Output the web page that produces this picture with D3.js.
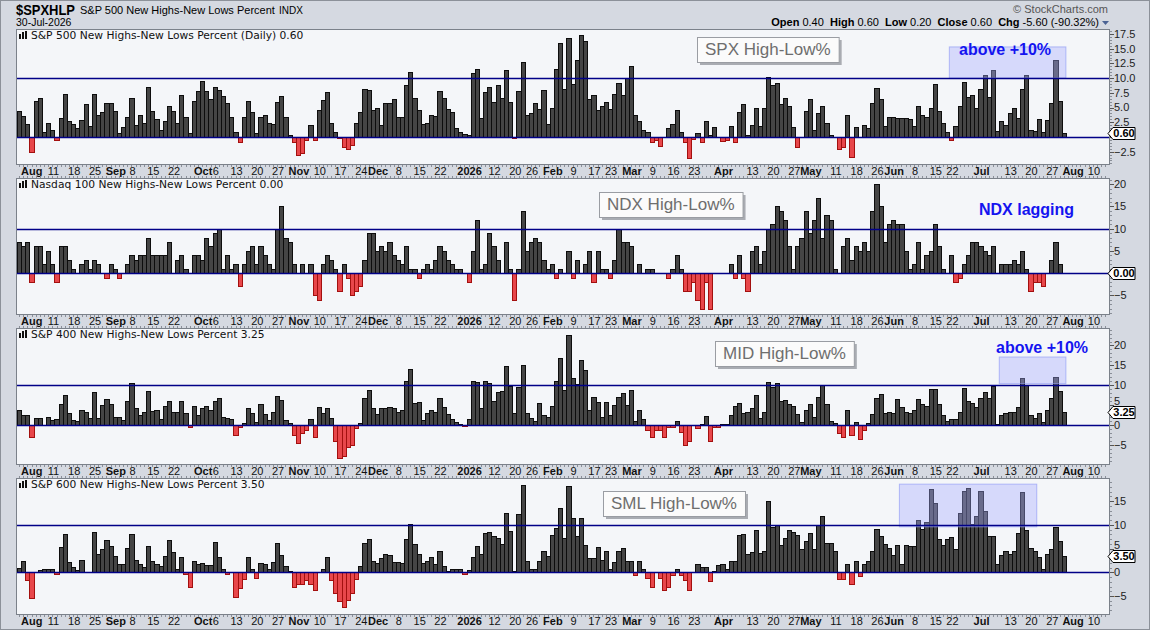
<!DOCTYPE html>
<html>
<head>
<meta charset="utf-8">
<script src="https://cdn.jsdelivr.net/npm/d3@7/dist/d3.min.js"></script>
<style>
  body { margin: 0; background: #d5d9e1; }
  svg { display: block; }
  text { font-family: "Liberation Sans", Arial, sans-serif; }
</style>
</head>
<body>
<div id="chart"></div>
<script>
/* ---- Data ---- */

// market holidays in the range, weekends are skipped as well
const holidays = ["2025-09-01", "2025-11-27", "2025-12-25", "2026-01-01", "2026-01-19",
  "2026-02-16", "2026-04-03", "2026-05-25", "2026-06-19", "2026-07-03"];

const firstDay = "2025-07-30";
const lastDay = "2026-07-30";
const axisEnd = "2026-08-13";

const tickDates = ["2025-08-01", "2025-08-11", "2025-08-18", "2025-08-25", "2025-09-02", "2025-09-08",
  "2025-09-15", "2025-09-22", "2025-10-01", "2025-10-06", "2025-10-13", "2025-10-20", "2025-10-27",
  "2025-11-03", "2025-11-10", "2025-11-17", "2025-11-24", "2025-12-01", "2025-12-08", "2025-12-15",
  "2025-12-22", "2026-01-02", "2026-01-12", "2026-01-20", "2026-01-26", "2026-02-02", "2026-02-09",
  "2026-02-17", "2026-02-23", "2026-03-02", "2026-03-09", "2026-03-16", "2026-03-23", "2026-04-01",
  "2026-04-13", "2026-04-20", "2026-04-27", "2026-05-01", "2026-05-11", "2026-05-18", "2026-05-26",
  "2026-06-01", "2026-06-08", "2026-06-15", "2026-06-22", "2026-07-01", "2026-07-13", "2026-07-20",
  "2026-07-27", "2026-08-03", "2026-08-10"];
const tickLabels = ["Aug", "11", "18", "25", "Sep", "8", "15", "22", "Oct", "6", "13", "20", "27",
  "Nov", "10", "17", "24", "Dec", "8", "15", "22", "2026", "12", "20", "26", "Feb", "9", "17", "23",
  "Mar", "9", "16", "23", "Apr", "13", "20", "27", "May", "11", "18", "26", "Jun", "8", "15", "22",
  "Jul", "13", "20", "27", "Aug", "10"];

// S&P 500 New Highs-New Lows Percent
const spxValues = [
  4.4, 3.5, 2.2, -2.6, 6.1, 6.6, 0.8, 2.3, 1.1, -0.5, 3.2, 7.3, 2.7, 2.2, 1.5, 2.9, 5.6, 1.8, 7.3, 3.7,
  4.2, 5.7, 5.7, 4.4, 0.6, 1.7, 3.4, 6.6, 2.0, 3.7, 2.3, 8.5, 4.4, 3.1, 1.1, 2.7, 5.2, 4.4, 2.3, 7.1,
  3.4, 0.6, 6.1, 7.8, 9.5, 7.8, 6.5, 8.5, 8.0, 6.9, 5.7, 3.4, 0.8, -0.9, 3.4, 6.1, 4.2, 0.6, 3.4, 3.7,
  2.3, 2.2, 6.0, 6.9, 3.4, 0.3, -0.9, -3.0, -2.8, -0.5, 2.0, -0.6, 4.5, 6.2, 7.7, 2.3, 0.8, -0.2, -1.7,
  -2.0, -1.4, 2.3, 4.2, 8.1, 8.0, 4.5, 4.9, 2.0, 5.7,
  5.7, 6.5, 3.4, 3.4, 8.9, 11.1, 6.6, 4.5, 2.2, 2.3, 3.7, 3.5, 7.8, 6.6, 4.8, 4.2, 1.5, 0.8, 0.5, 0.3,
  10.9, 11.5, 3.2, 7.7, 8.5, 6.0, 8.9, 6.6, 11.4, 6.0, -0.2, 7.8, 12.8, 3.7, 4.0, 5.7, 4.8, 8.0, 2.2, 4.9,
  11.6, 15.9, 8.1, 16.8, 9.0, 13.1, 17.4, 16.3, 6.5, 7.1, 4.5, 5.2, 5.9, 4.8, 7.3, 9.1, 7.1, 10.0, 12.0, 3.7,
  2.7, 1.1, 0.8, -0.9, -0.6, -1.6, 0, 1.5, 2.2, 4.5, 0.8, -0.9, -3.5, -0.3, 0.6, -0.9, 2.7, 0.3, 1.7, 0,
  -0.7, -0.5, 1.8, -0.9, 4.2, 5.6, 0.3, 2.0, 4.9, 1.8, 4.9,
  10.2, 8.9, 9.1, 5.6, 6.6, 5.2, 1.7, -1.7, 0, 4.4, 6.5, 1.1, 4.0, 5.2, 2.3, 0.3, 0, -2.0, -1.7, 3.7,
  -3.4, 1.7, 0, 2.0, 1.5, 5.7, 8.4, 6.5, 1.8, 3.4, 3.4, 3.2, 3.2, 3.2, 3.1, 1.8, 5.2, 3.7, 3.4, 4.9,
  9.0, 4.4, 2.3, 0.8, -0.5, 1.8, 5.2, 9.4, 6.8, 7.1, 4.9, 8.1, 10.5, 6.8, 11.4, 1.0, 2.7, 2.0, 4.0, 4.9,
  3.2, 8.1, 10.5, 1.1, 1.0, 3.1, 0.8, 2.9, 5.7, 13.1, 6.1, 0.6];

// Nasdaq 100 New Highs-New Lows Percent
const ndxValues = [
  7, 6, 7, -2, 6, 6, 2, 5, 2, -2, 6, 6, 3, 1, 0, 2, 3, 1, 3, 2,
  0, -1, 2, 1, -1, 0, 2, 4, 3, 4, 4, 8, 4, 4, 4, 4, 7, 0, 3, 4,
  1, 0, 4, 4, 3, 8, 6, 9, 10, 1, 4, 1, 2, -3, 2, 5, 6, 2, 6, 4,
  2, 1, 10, 15, 8, 7, 2, 0, 2, 0, 2, -5, -6, 2, 4, 3, 1, -4, 2, -1,
  -5, -4, -3, 3, 9, 9, 5, 6, 5, 7,
  4, 3, 2, 6, 1, 1, -1, 1, 2, 1, 3, 6, 5, 3, 2, 1, 1, 0, -2, 5,
  12, 1, 2, 9, 6, 3, 0, 7, 1, -6, 1, 14, 5, 7, 8, 7, 3, 1, 2, -1,
  1, 0, 5, -1, 3, 0, 2, 5, -2, 5, 1, 1, -1, 3, 10, 7, 7, 6, 0, 2,
  0, 1, 1, 0, 0, 0, -1, 1, 4, 1, -4, -4, -2, -6, -8, -2, -8, 0, 0, 0,
  0, 2, -1, 4, -1, -4, 5, 6, 2, 5,
  10, 11, 15, 14, 12, 6, 1, 6, 8, 14, 9, 12, 17, 8, 13, 12, 1, 0, 6, 8,
  3, 6, 5, 7, 5, 14, 20, 15, 7, 11, 12, 11, 11, 5, 1, 2, 7, 1, 4, 5,
  11, 6, 1, 0, 4, -2, -1, 2, 4, 7, 7, 6, 5, 4, 6, 0, 2, 2, 2, 3,
  2, 5, 1, -4, -2, -2, -3, 0, 3, 7, 2, 0];

// S&P 400 New Highs-New Lows Percent
const midValues = [
  3.7, 2.5, 2.5, -2.9, 1.7, 1.7, 0, 1.9, 1.3, 1.4, 5.2, 7.5, 2.9, 1.3, 1.0, 3.7, 3.4, 1.7, 8.2, 1.7,
  5.0, 6.5, 5.2, 1.9, 1.9, 1.2, 6.0, 10.5, 4.2, 2.5, 3.2, 8.5, 3.5, 3.7, 1.4, 4.7, 6.0, 3.2, 3.4, 6.0,
  2.9, -0.6, 4.7, 2.5, 4.2, 4.7, 3.9, 6.0, 6.7, 1.9, 1.7, 1.4, -2.6, -0.4, 0.4, 4.2, 2.9, 0.7, 5.2, 2.7,
  1.2, 3.2, 7.2, 6.2, 1.2, 0.4, -2.4, -4.4, -2.1, -1.3, 1.4, -2.9, 4.5, 2.9, 4.2, 1.7, -3.9, -8.2, -7.9,
  -5.4, -5.1, -0.8, 0.4, 6.7, 8.7, 4.2, 2.7, 4.2, 4.2,
  4.5, 4.2, 3.2, 3.9, 11.0, 14.1, 5.5, 5.7, 1.2, 2.9, 3.9, 3.2, 6.7, 4.5, 2.7, 1.4, 0.7, 0.3, -0.3, 1.4,
  11.0, 10.8, 4.2, 11.0, 10.5, 6.0, 8.2, 8.5, 14.8, 9.7, 2.9, 9.5, 15.0, 2.9, 1.7, 0.9, 5.5, 2.5, 1.9, 4.7,
  11.0, 16.8, 8.7, 22.6, 11.8, 10.3, 16.3, 13.8, 3.9, 7.0, 5.7, 1.9, 5.7, 2.5, 5.0, 7.0, 8.0, 5.0, 8.7, 0.9,
  3.7, 1.4, -1.3, -3.1, -1.3, -1.3, -2.9, -0.6, -0.6, 0.9, -1.8, -4.9, -4.1, 0, -0.8, 0.3, 2.3, -3.9, -0.6, -0.6,
  0.2, 0.2, 2.5, 4.7, 5.5, 2.9, 3.2, 4.2, 7.5, 1.7, 3.4,
  10.8, 9.5, 10.5, 6.0, 6.2, 5.2, 4.7, 2.7, 0.7, 3.9, 5.2, 1.9, 7.0, 10.0, 5.2, 0.9, 0.4, -2.1, -2.9, 3.9,
  -2.4, 0.7, -3.4, -1.3, 0.4, 2.7, 6.7, 7.7, 2.9, 3.4, 2.9, 6.5, 4.5, 3.2, 2.9, 3.7, 6.5, 5.2, 4.7, 9.0,
  9.0, 5.2, 2.5, 0.9, 1.4, 1.4, 3.2, 9.2, 6.0, 5.5, 4.5, 6.7, 8.2, 6.7, 9.7, 0.2, 2.4, 2.9, 3.4, 3.2,
  4.5, 11.8, 10.0, 2.4, 1.7, 2.9, 0.7, 3.9, 6.7, 12.0, 8.5, 3.25];

// S&P 600 New Highs-New Lows Percent
const smlValues = [
  0.9, 2.4, -1.7, -5.5, 0, 0.4, 0.8, 0.8, 0.8, -0.3, 5.4, 8.0, 2.1, 1.1, 0.4, 2.5, 0, 0, 8.5, 3.8,
  4.9, 6.8, 5.5, 3.4, 1.7, 1.7, 5.1, 8.0, 2.7, 1.7, 1.1, 5.5, 2.3, 1.7, 1.3, 3.4, 6.8, 4.2, 0.8, 3.2,
  -0.3, -3.2, 2.3, 1.7, 1.9, 1.5, 1.5, 6.3, 3.2, 0.8, -0.3, 0, -5.3, -3.4, -1.5, 3.2, 0.8, -1.3, 1.9, 1.7,
  0.8, 2.1, 6.1, 3.6, 1.3, 0.2, -3.0, -2.5, -2.5, -1.7, -2.5, -3.8, 0, 0.8, 3.2, -1.7, -4.4, -6.1, -7.4,
  -5.9, -4.4, -1.5, 1.3, 6.1, 7.0, 2.3, 1.9, 3.0, 3.8,
  3.6, 2.1, 2.1, 1.9, 7.0, 10.2, 5.9, 3.8, 1.9, 2.3, 3.2, 1.7, 4.4, 1.3, 0.2, 0.8, 0.8, 0.8, -0.3, 0.4,
  3.2, 5.5, 3.8, 8.2, 8.5, 7.6, 7.2, 5.9, 12.5, 8.7, 0.2, 12.3, 18.4, 2.3, 0.8, 0.8, 2.3, 4.4, 3.4, 7.8,
  9.3, 13.5, 7.2, 18.2, 11.5, 7.6, 11.5, 5.7, 3.0, 3.0, 5.3, 2.7, 4.6, 0.6, 2.1, 4.4, 5.1, 2.3, 2.3, -0.5,
  2.3, 0.8, -1.1, -3.2, 0, -1.3, -3.8, -3.0, -0.6, 0.8, -0.6, -1.7, -3.8, 0, 1.7, 1.1, 1.1, -1.9, 0.2, 1.5,
  1.7, 0.6, 2.3, 2.3, 7.8, 8.0, 3.8, 4.2, 8.9, 4.0, 4.6,
  15.0, 9.5, 9.9, 5.7, 7.2, 8.9, 8.5, 7.8, 4.9, 6.5, 8.2, 4.9, 9.9, 11.8, 6.1, 6.1, 4.4, -1.5, -1.5, 1.7,
  -2.5, 2.3, -0.8, 1.7, 2.3, 4.4, 9.1, 7.6, 5.9, 5.1, 3.6, 5.7, 1.7, 5.7, 5.5, 5.5, 11.0, 9.1, 10.6, 17.5,
  14.6, 7.0, 5.7, 7.0, 7.4, 4.9, 12.5, 17.2, 17.7, 10.1, 11.8, 17.2, 12.9, 7.6, 7.6, 1.7, 3.6, 4.4, 3.8, 4.6,
  8.2, 17.0, 8.9, 5.1, 4.4, 3.2, 0.8, 3.8, 4.9, 9.5, 6.5, 3.5];

const panelTitles = [
  "S&P 500 New Highs-New Lows Percent (Daily) 0.60",
  "Nasdaq 100 New Highs-New Lows Percent 0.00",
  "S&P 400 New Highs-New Lows Percent 3.25",
  "S&P 600 New Highs-New Lows Percent 3.50"];
const lastLabels = ["0.60", "0.00", "3.25", "3.50"];
const boxLabels = ["SPX High-Low%", "NDX High-Low%", "MID High-Low%", "SML High-Low%"];

// shaded "above +10%" zones: [panel, from, to, low, high]
const zones = [
  [0, "2026-06-22", "2026-07-30", 10, 15.3],
  [2, "2026-07-09", "2026-07-30", 10.4, 17.1],
  [3, "2026-06-03", "2026-07-21", 9.6, 18.6]];

/* ---- Helpers ---- */
function tradingDays(from, to) {
  const out = [];
  const d = new Date(from + "T12:00:00Z");
  const end = new Date(to + "T12:00:00Z");
  while (d <= end) {
    const wd = d.getUTCDay();
    const s = d.toISOString().slice(0, 10);
    if (wd !== 0 && wd !== 6 && holidays.indexOf(s) < 0) out.push(s);
    d.setUTCDate(d.getUTCDate() + 1);
  }
  return out;
}

const days = tradingDays(firstDay, lastDay);
const slots = tradingDays(firstDay, axisEnd);

/* ---- Layout ---- */
const W = 1150, H = 630;
const plotL = 16, plotR = 1109;
const panels = [
  { values: spxValues, top: 29, bottom: 164, lo: -4.6, hi: 18.35, ticks: d3.range(-2.5, 18, 2.5), minor: 0.5, fmt: d3.format(".1f"), box: [697, 37] },
  { values: ndxValues, top: 178, bottom: 314, lo: -9.2, hi: 21.4, ticks: d3.range(-5, 21, 5), minor: 1, fmt: d3.format("d"), box: [599, 192] },
  { values: midValues, top: 328, bottom: 464, lo: -9.8, hi: 24.4, ticks: d3.range(-5, 21, 5), minor: 1, fmt: d3.format("d"), box: [715, 341] },
  { values: smlValues, top: 478, bottom: 614, lo: -8.8, hi: 19.9, ticks: d3.range(-5, 16, 5), minor: 1, fmt: d3.format("d"), box: [603, 491] }
];

const x = d3.scaleBand().domain(slots).range([17, 1107.5]);
const bw = x.bandwidth();

const svg = d3.select("#chart").append("svg")
  .attr("width", W)
  .attr("height", H);

svg.append("rect")
  .attr("x", 0.5).attr("y", 0.5)
  .attr("width", W - 1).attr("height", H - 1)
  .attr("fill", "#d5d9e1")
  .attr("stroke", "#8c9199");

/* Header */
svg.append("text").attr("x", 16).attr("y", 15)
  .attr("textLength", 59).attr("lengthAdjust", "spacingAndGlyphs")
  .style("font-size", "15px").style("font-weight", "bold").text("$SPXHLP");
svg.append("text").attr("x", 80).attr("y", 14)
  .style("font-size", "11px").text("S&P 500 New Highs-New Lows Percent");
svg.append("text").attr("x", 279).attr("y", 14)
  .style("font-size", "10px").text("INDX");
svg.append("text").attr("x", 16).attr("y", 26)
  .style("font-size", "10.5px").text("30-Jul-2026");
svg.append("text").attr("x", 1108).attr("y", 13).attr("text-anchor", "end")
  .style("font-size", "11px").attr("fill", "#555").text("\u00A9 StockCharts.com");

const stats = [["Open", "0.40"], ["High", "0.60"], ["Low", "0.20"], ["Close", "0.60"], ["Chg", "-5.60 (-90.32%)"]];
const statText = svg.append("text").attr("x", 1099).attr("y", 26)
  .attr("text-anchor", "end").style("font-size", "11px");
stats.forEach((s, i) => {
  statText.append("tspan").style("font-weight", "bold").text((i ? "\u00A0\u00A0" : "") + s[0]);
  statText.append("tspan").text("\u00A0" + s[1]);
});
svg.append("path").attr("d", "M1102,21 L1109,21 L1105.5,25 Z").attr("fill", "#4b6394");

/* Panels */
panels.forEach((p, pi) => {
  const y = d3.scaleLinear().domain([p.lo, p.hi]).range([p.bottom, p.top]);
  const g = svg.append("g");
  const y0 = Math.round(y(0));
  const lastV = p.values[p.values.length - 1];

  g.append("rect")
    .attr("x", plotL + 0.5).attr("y", p.top + 0.5)
    .attr("width", plotR - plotL).attr("height", p.bottom - p.top)
    .attr("fill", "#f4f6f9");

  // bars
  const bars = p.values.map((v, i) => ({ date: days[i], v: v })).filter(d => d.v !== 0);
  g.selectAll("rect.bar")
    .data(bars)
    .join("rect")
    .attr("class", "bar")
    .attr("x", d => Math.round(x(d.date)) + 0.5)
    .attr("width", d => Math.round(x(d.date) + bw) - Math.round(x(d.date)))
    .attr("y", d => (d.v > 0 ? Math.round(y(d.v)) : y0) + 0.5)
    .attr("height", d => Math.max(1, Math.abs(Math.round(y(d.v)) - y0)))
    .attr("fill", d => d.v > 0 ? "#454545" : "#e8474b")
    .attr("stroke", d => d.v > 0 ? "#0d0d0d" : "#a3100f")
    .attr("stroke-width", 1);

  // shaded zones
  zones.filter(z => z[0] === pi).forEach(z => {
    g.append("rect")
      .attr("x", x(z[1]))
      .attr("width", x(z[2]) + bw - x(z[1]))
      .attr("y", y(z[4]))
      .attr("height", y(z[3]) - y(z[4]))
      .attr("fill", "rgba(165,170,255,0.38)")
      .attr("stroke", "rgba(150,160,245,0.7)");
  });

  // reference lines at 0 and +10
  [0, 10].forEach(v => {
    g.append("line")
      .attr("x1", plotL).attr("x2", plotR)
      .attr("y1", Math.round(y(v)) + 0.5).attr("y2", Math.round(y(v)) + 0.5)
      .attr("stroke", "#000088").attr("stroke-width", 1.4);
  });

  // frame
  g.append("rect")
    .attr("x", plotL + 0.5).attr("y", p.top + 0.5)
    .attr("width", plotR - plotL).attr("height", p.bottom - p.top)
    .attr("fill", "none").attr("stroke", "#7b818a");

  // day ticks along top and bottom edges
  g.selectAll("line.dt")
    .data(slots)
    .join("line")
    .attr("class", "dt")
    .attr("x1", d => Math.round(x(d) + bw / 2) + 0.5).attr("x2", d => Math.round(x(d) + bw / 2) + 0.5)
    .attr("y1", p.bottom + 1).attr("y2", p.bottom + 3)
    .attr("stroke", "#8a8f98");
  if (pi > 0) {
    g.selectAll("line.ut")
      .data(slots)
      .join("line")
      .attr("class", "ut")
      .attr("x1", d => Math.round(x(d) + bw / 2) + 0.5).attr("x2", d => Math.round(x(d) + bw / 2) + 0.5)
      .attr("y1", p.top - 2).attr("y2", p.top)
      .attr("stroke", "#8a8f98");
  }

  // right axis
  const minor = d3.range(Math.ceil(p.lo / p.minor) * p.minor, p.hi, p.minor);
  g.selectAll("line.mt")
    .data(minor)
    .join("line")
    .attr("x1", plotR + 1).attr("x2", plotR + 3)
    .attr("y1", d => Math.round(y(d)) + 0.5).attr("y2", d => Math.round(y(d)) + 0.5)
    .attr("stroke", "#8a8f98");
  g.selectAll("line.yt")
    .data(p.ticks)
    .join("line")
    .attr("x1", plotR + 1).attr("x2", plotR + 5)
    .attr("y1", d => Math.round(y(d)) + 0.5).attr("y2", d => Math.round(y(d)) + 0.5)
    .attr("stroke", "#555");

  // labels that the value tag would hide completely are left out,
  // labels that would only touch the tag are nudged above it
  const ty = Math.round(y(lastV)) + 0.5;
  g.selectAll("text.yl")
    .data(p.ticks.filter(t => Math.abs(y(t) - ty) > 5))
    .join("text")
    .attr("x", 1114)
    .attr("y", d => {
      const yy = y(d);
      if (yy < ty && yy + 4.5 > ty - 6.5) return ty - 11;
      if (yy > ty && yy - 4.5 < ty + 6.5) return ty + 11;
      return yy;
    })
    .attr("dy", "0.36em")
    .style("font-size", "11px").attr("fill", "#222")
    .text(d => p.fmt(d));

  // current value tag
  g.append("path")
    .attr("d", `M1108,${ty} L1113,${ty - 6} L1135,${ty - 6} L1135,${ty + 6} L1113,${ty + 6} Z`)
    .attr("fill", "#fff").attr("stroke", "#000");
  g.append("text")
    .attr("x", 1124).attr("y", ty).attr("dy", "0.36em")
    .attr("text-anchor", "middle")
    .style("font-size", "11px").style("font-weight", "bold")
    .text(lastLabels[pi]);

  // panel title with small bar icon
  [[19, 5], [22, 7], [25, 8]].forEach(b => {
    g.append("rect").attr("x", b[0]).attr("y", p.top + 10 - b[1])
      .attr("width", 2).attr("height", b[1]).attr("fill", "#111");
  });
  g.append("text")
    .attr("x", 31).attr("y", p.top + 10)
    .style("font-family", "'DejaVu Sans', Verdana, sans-serif")
    .style("font-size", "10.7px").attr("fill", "#111")
    .text(panelTitles[pi]);

  // gray label box
  const bt = g.append("text")
    .attr("x", p.box[0] + 8).attr("y", p.box[1] + 18)
    .style("font-size", "17px").attr("fill", "#6e6e6e")
    .text(boxLabels[pi]);
  const tw = bt.node().getComputedTextLength();
  g.insert("rect", () => bt.node())
    .attr("x", p.box[0] + 3).attr("y", p.box[1] + 3)
    .attr("width", tw + 16).attr("height", 25).attr("fill", "#a9acb2");
  g.insert("rect", () => bt.node())
    .attr("x", p.box[0] + 0.5).attr("y", p.box[1] + 0.5)
    .attr("width", tw + 16).attr("height", 25)
    .attr("fill", "#fbfbfb").attr("stroke", "#9a9da3");

  // date labels under the panel
  g.selectAll("text.xl")
    .data(tickDates)
    .join("text")
    .attr("class", "xl")
    .attr("x", d => x(d) + bw / 2 + 1)
    .attr("y", p.bottom + 11)
    .attr("text-anchor", "middle")
    .style("font-size", "11px")
    .style("font-weight", (d, i) => tickLabels[i].length > 2 ? "bold" : "normal")
    .attr("fill", "#111")
    .text((d, i) => tickLabels[i])
    .each(function () {
      const w = this.getComputedTextLength();
      const cx = +this.getAttribute("x");
      if (cx - w / 2 < 21) this.setAttribute("x", 21 + w / 2);
    });
});

/* Blue notes */
const notes = [[959, 55, "above +10%"], [979, 215, "NDX lagging"], [996, 353, "above +10%"]];
svg.selectAll("text.note")
  .data(notes)
  .join("text")
  .attr("x", d => d[0]).attr("y", d => d[1])
  .style("font-size", "16px").style("font-weight", "bold")
  .attr("fill", "#1414f0")
  .text(d => d[2]);
</script>
</body>
</html>
